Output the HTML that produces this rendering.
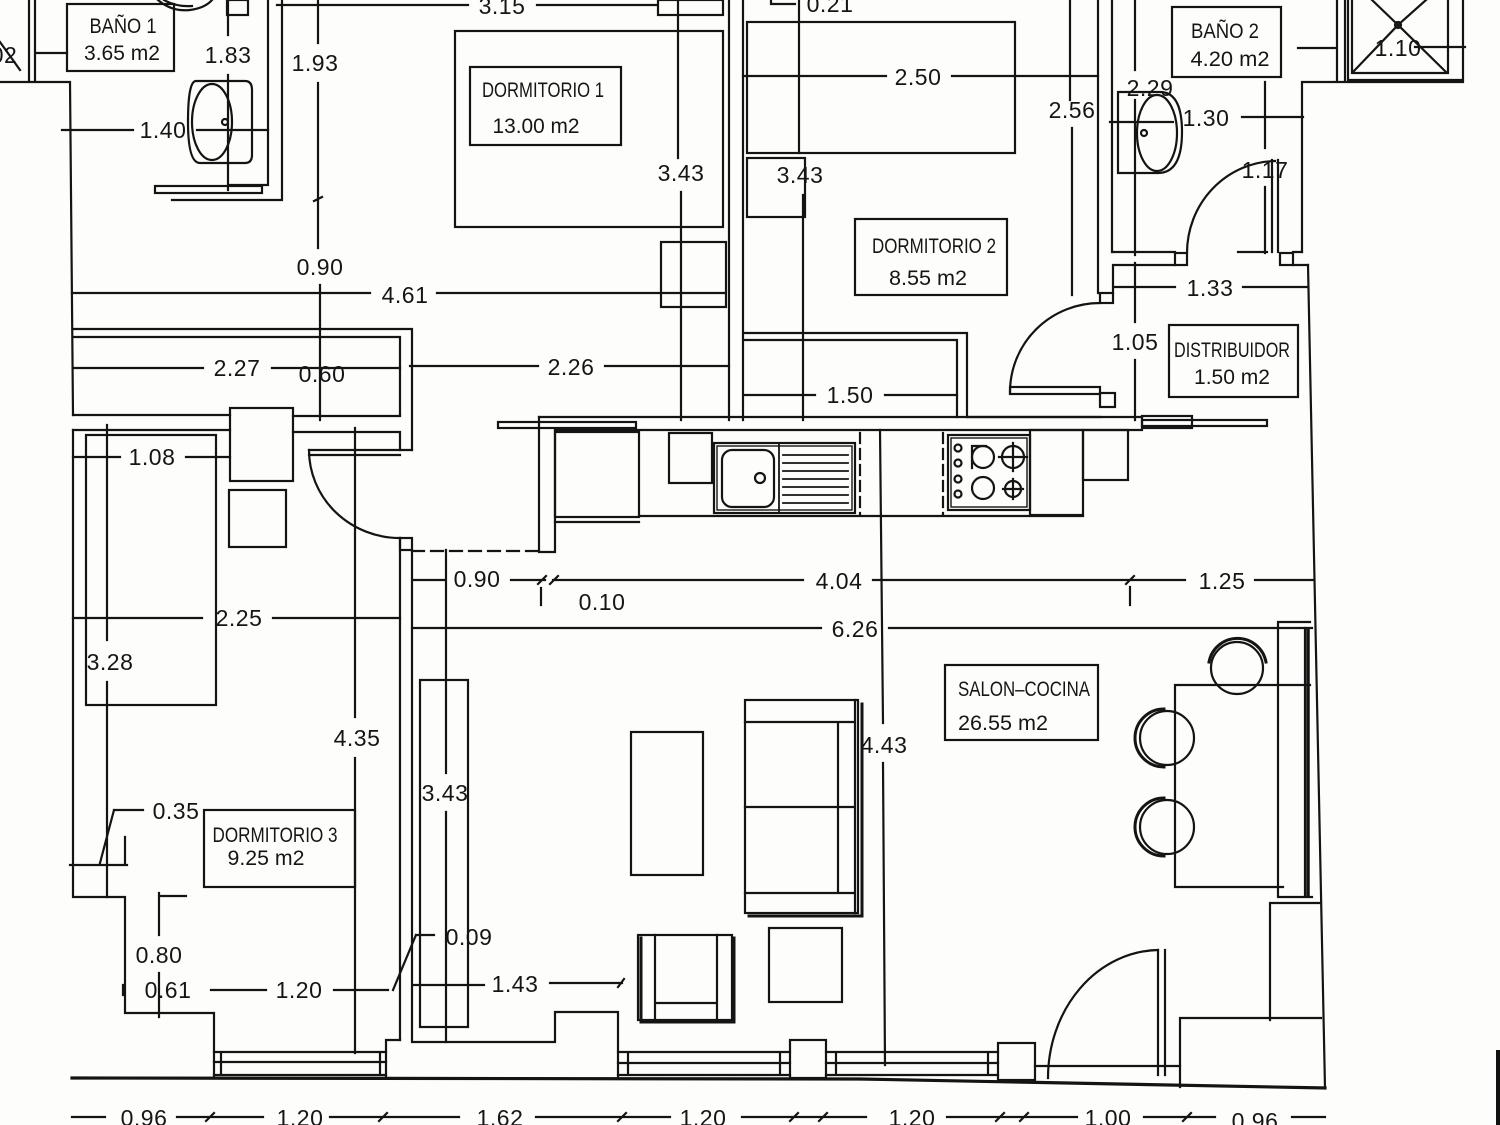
<!DOCTYPE html>
<html><head><meta charset="utf-8"><style>
html,body{margin:0;padding:0;background:#fdfdfc;}
svg{display:block;}
text{font-family:"Liberation Sans",sans-serif;fill:#151515;}
.d{font-size:23px;text-anchor:middle;letter-spacing:0.5px;}
.l{font-size:21px;text-anchor:middle;}
</style></head><body>
<svg width="1500" height="1125" viewBox="0 0 1500 1125" xmlns="http://www.w3.org/2000/svg">
<rect width="1500" height="1125" fill="#fdfdfc"/>
<g stroke="#141414" stroke-width="2.2" fill="none" stroke-linecap="square">
<!-- TOP LEFT / BAÑO 1 -->
<path d="M29 0V82M35 0V82M0 82H69M70 82L73 415M0 42L20 70M35 53H67"/>
<rect x="67" y="4" width="107" height="67"/>
<path d="M158 0Q172 12 190 10Q205 8 212 0M164 0Q176 7 192 6"/>
<rect x="227" y="0" width="21" height="15"/>
<path d="M228 0V35M228 75V190"/>
<path d="M196 81H245Q252 81 252 90V155Q252 163 245 163H200Q188 163 188 122Q188 81 196 81Z"/>
<ellipse cx="212" cy="122" rx="20" ry="38"/>
<circle cx="225" cy="122" r="3"/>
<path d="M62 130H133M197 130H268"/>
<path d="M268 0V185M282 0V200M229 185H268M172 200H282"/>
<rect x="155" y="186" width="107" height="7"/>
<path d="M318 0V43M318 83V248M314 201L322 197M320 285V420"/>
<path d="M277 5H468M537 5H657"/>
<rect x="658" y="0" width="65" height="15"/>
<path d="M72 293H370M437 293H725"/>
<path d="M73 329H412M73 337H400M400 337V415M412 329V450"/>
<path d="M73 368H203M272 368H400"/>
<path d="M73 415H230M293 416H400M73 430H230M293 432H400M400 432V450"/>
<path d="M309 450H412M309 455H400"/>
<rect x="230" y="408" width="63" height="73"/>
<rect x="229" y="490" width="57" height="57"/>
<!-- DORM 1 -->
<rect x="455" y="31" width="268" height="196"/>
<rect x="470" y="67" width="151" height="78"/>
<path d="M678 0V158M681 192V420"/>
<rect x="661" y="242" width="65" height="65"/>
<path d="M729 0V420M743 0V420"/>
<path d="M410 366H538M605 366H729"/>
<!-- DORM 2 -->
<path d="M771 0V4H795"/>
<rect x="747" y="22" width="268" height="131"/>
<path d="M799 0V153M803 195V420"/>
<rect x="747" y="158" width="58" height="59"/>
<path d="M743 76H886M952 76H1098"/>
<rect x="855" y="219" width="152" height="76"/>
<path d="M745 333H967M745 340H957M957 340V417M967 333V417"/>
<path d="M745 395H815M885 395H957"/>
<path d="M1070 0V100M1072 128V295"/>
<path d="M1098 0V293M1112 0V252"/>
<!-- BAÑO 2 -->
<path d="M1135 0V70M1135 100V255"/>
<rect x="1172" y="7" width="109" height="70"/>
<path d="M1298 48H1337M1337 0V80M1345 0V80" />
<path d="M1348 0V80H1463V0M1352 0V73H1448V0M1353 72L1398 25L1446 72M1398 25L1372 0M1398 25L1426 0"/>
<circle cx="1398" cy="25" r="3"/>
<path d="M1415 47H1465"/>
<path d="M1302 82H1463M1302 82V252"/>
<path d="M1118 92H1160Q1182 92 1182 132Q1182 173 1158 173H1118Z"/>
<ellipse cx="1157" cy="133" rx="20" ry="38"/>
<circle cx="1144" cy="133" r="3"/>
<path d="M1110 122H1173M1242 117H1303"/>
<path d="M1265 82V148M1265 187V253M1238 252H1267"/>
<path d="M1272 160V252M1278 160V252"/>
<path d="M1187 253A90 92 0 0 1 1275 161"/>
<rect x="1175" y="253" width="12" height="12"/>
<rect x="1280" y="253" width="13" height="12"/>
<path d="M1113 252H1175M1113 265H1175M1293 252H1302M1293 265H1308M1113 265V293"/>
<rect x="1100" y="293" width="13" height="10"/>
<path d="M1115 287H1175M1243 287H1308"/>
<path d="M1135 263V322M1135 360V420"/>
<path d="M1308 265L1325 1088"/>
<!-- DISTRIBUIDOR DOOR -->
<path d="M1100 303A90 89 0 0 0 1010 392"/>
<rect x="1010" y="387" width="90" height="7"/>
<rect x="1100" y="393" width="15" height="14"/>
<rect x="1169" y="325" width="129" height="72"/>
<path d="M968 417H1100"/>
<!-- KITCHEN -->
<path d="M539 417H1142M555 430H1142"/>
<rect x="498" y="422" width="138" height="6"/>
<rect x="1142" y="416" width="50" height="12"/>
<rect x="1142" y="420" width="125" height="6"/>
<path d="M539 417V552M555 430V552M539 552H555"/>
<path d="M412 551H539" stroke-dasharray="12 7"/>
<rect x="555" y="432" width="84" height="85"/>
<path d="M555 522H639M639 516H1083"/>
<rect x="669" y="433" width="43" height="50"/>
<rect x="714" y="443" width="141" height="70"/>
<rect x="717" y="446" width="135" height="64" stroke-width="1.4"/>
<rect x="722" y="450" width="52" height="57" rx="10"/>
<circle cx="760" cy="478" r="5"/>
<path d="M779 443V513M783 455H848M783 463H848M783 471H848M783 479H848M783 487H848M783 495H848M783 503H848" stroke-width="1.8"/>
<path d="M860 433V515M943 433V515" stroke-dasharray="10 6"/>
<path d="M880 430L883 723M883 763L885 1065"/>
<rect x="948" y="435" width="82" height="75"/>
<rect x="951" y="438" width="76" height="69" stroke-width="1.4"/>
<circle cx="958" cy="448" r="3.5"/><circle cx="958" cy="463" r="3.5"/><circle cx="958" cy="479" r="3.5"/><circle cx="958" cy="494" r="3.5"/>
<circle cx="983" cy="457" r="11"/><path d="M972 446H986M972 446V468"/>
<circle cx="1013" cy="457" r="11"/><path d="M1013 443V471M999 457H1027"/>
<circle cx="983" cy="488" r="11"/>
<circle cx="1013" cy="489" r="8"/><path d="M1013 479V499M1003 489H1023"/>
<rect x="1030" y="430" width="53" height="85"/>
<rect x="1083" y="430" width="45" height="50"/>
<!-- LIVING -->
<path d="M414 580H445M511 580H545M553 580H803M538 584L546 576M550 584L558 576M541 588V605"/>
<path d="M873 580H1185M1126 584L1134 576M1130 587V605M1255 580H1314"/>
<path d="M412 628H821M889 628H1312"/>
<path d="M446 550V773M446 812V1042"/>
<rect x="420" y="680" width="48" height="347"/>
<path d="M400 538V1040M412 550V1042"/>
<rect x="400" y="538" width="12" height="12"/>
<rect x="631" y="732" width="72" height="143"/>
<rect x="745" y="700" width="113" height="213"/>
<path d="M749 916H862V704" stroke-width="3"/>
<path d="M745 722H855M745 893H855M838 722V893M745 807H855M855 700V913"/>
<rect x="638" y="935" width="94" height="85"/>
<path d="M641 938V1022H734V938" stroke-width="3"/>
<path d="M655 935V1020M717 935V1020M655 1003H717"/>
<rect x="769" y="928" width="73" height="74"/>
<rect x="945" y="665" width="153" height="75"/>
<path d="M1175 685H1310M1175 685V887H1283"/>
<path d="M1278 622H1310M1278 622V897H1312M1305 628V895" />
<path d="M1308 630V895" stroke-width="3.5"/>
<circle cx="1237" cy="668" r="26"/><path d="M1209 662A29 29 0 0 1 1266 662" stroke-width="3"/>
<circle cx="1167" cy="738" r="27"/><path d="M1164 709A29 29 0 0 0 1164 767" stroke-width="3"/>
<circle cx="1167" cy="827" r="27"/><path d="M1164 798A29 29 0 0 0 1164 856" stroke-width="3"/>
<path d="M1270 903H1320M1270 903V1020M1180 1087V1018H1321"/>
<path d="M1048 1078A112 128 0 0 1 1158 950"/>
<path d="M1158 950V1075M1165 950V1075M1035 1066H1180"/>
<rect x="998" y="1043" width="37" height="37"/>
<rect x="790" y="1040" width="36" height="38"/>
<path d="M618 1052H790M618 1063H790M618 1075H790M628 1052V1075M780 1052V1075"/>
<path d="M826 1052H998M826 1063H998M826 1075H998M836 1052V1075M988 1052V1075"/>
<path d="M414 1042H555V1012H618V1078"/>
<path d="M413 985H484M550 983H622M618 987L624 979"/>
<path d="M416 935H434M416 935L393 990"/>
<!-- DORM 3 -->
<path d="M73 430V897H125V1013H214V1078"/>
<rect x="86" y="435" width="130" height="270"/>
<path d="M73 457H120M186 457H230"/>
<path d="M107 425V640M107 682V897"/>
<path d="M73 618H202M273 618H400"/>
<path d="M355 428V717M355 758V1053"/>
<rect x="204" y="810" width="151" height="77"/>
<path d="M114 810H143M114 810L100 863M70 865H127M125 837V865"/>
<path d="M159 893V935M159 896H186M159 973V1017"/>
<path d="M123 985V995M211 990H266M334 990H388"/>
<path d="M214 1052H386M214 1062H386M214 1075H386M221 1052V1075M380 1052V1075"/>
<path d="M400 1040H386V1078"/>
<path d="M309 450A91 88 0 0 0 400 538"/>
<!-- GROUND -->
<path d="M72 1078L860 1079L1325 1088" stroke-width="3.2"/>
<path d="M72 1117H105M177 1117H263M330 1117H459M536 1117H670M742 1117H866M947 1117H1077M1144 1117H1215M1292 1117H1325"/>
<path d="M206 1121L214 1113M379 1121L387 1113M618 1121L626 1113M790 1121L798 1113M819 1121L827 1113M996 1121L1004 1113M1020 1121L1028 1113M1183 1121L1191 1113"/>
</g>
<rect x="1496" y="1050" width="4" height="75" fill="#111"/>
<!-- LABELS -->
<g>
<text class="l" x="123" y="33" textLength="67" lengthAdjust="spacingAndGlyphs">BAÑO 1</text>
<text class="l" x="122" y="60" textLength="76" lengthAdjust="spacingAndGlyphs">3.65 m2</text>
<text class="l" x="543" y="97" textLength="122" lengthAdjust="spacingAndGlyphs">DORMITORIO 1</text>
<text class="l" x="536" y="133" textLength="87" lengthAdjust="spacingAndGlyphs">13.00 m2</text>
<text class="l" x="934" y="253" textLength="124" lengthAdjust="spacingAndGlyphs">DORMITORIO 2</text>
<text class="l" x="928" y="285" textLength="78" lengthAdjust="spacingAndGlyphs">8.55 m2</text>
<text class="l" x="1225" y="38" textLength="68" lengthAdjust="spacingAndGlyphs">BAÑO 2</text>
<text class="l" x="1230" y="66" textLength="79" lengthAdjust="spacingAndGlyphs">4.20 m2</text>
<text class="l" x="1232" y="357" textLength="116" lengthAdjust="spacingAndGlyphs">DISTRIBUIDOR</text>
<text class="l" x="1232" y="384" textLength="76" lengthAdjust="spacingAndGlyphs">1.50 m2</text>
<text class="l" x="1024" y="696" textLength="132" lengthAdjust="spacingAndGlyphs">SALON–COCINA</text>
<text class="l" x="1003" y="730" textLength="90" lengthAdjust="spacingAndGlyphs">26.55 m2</text>
<text class="l" x="275" y="842" textLength="125" lengthAdjust="spacingAndGlyphs">DORMITORIO 3</text>
<text class="l" x="266" y="865" textLength="77" lengthAdjust="spacingAndGlyphs">9.25 m2</text>
</g>
<g>
<text class="d" x="228" y="63">1.83</text>
<text class="d" x="315" y="71">1.93</text>
<text class="d" x="163" y="138">1.40</text>
<text class="d" x="320" y="275">0.90</text>
<text class="d" x="405" y="303">4.61</text>
<text class="d" x="237" y="376">2.27</text>
<text class="d" x="322" y="382">0.60</text>
<text class="d" x="502" y="14">3.15</text>
<text class="d" x="830" y="12">0.21</text>
<text class="d" x="681" y="181">3.43</text>
<text class="d" x="918" y="85">2.50</text>
<text class="d" x="800" y="183">3.43</text>
<text class="d" x="1072" y="118">2.56</text>
<text class="d" x="1150" y="96">2.29</text>
<text class="d" x="1206" y="126">1.30</text>
<text class="d" x="1265" y="178">1.17</text>
<text class="d" x="1398" y="56">1.10</text>
<text class="d" x="1210" y="296">1.33</text>
<text class="d" x="1135" y="350">1.05</text>
<text class="d" x="571" y="375">2.26</text>
<text class="d" x="850" y="403">1.50</text>
<text class="d" x="152" y="465">1.08</text>
<text class="d" x="477" y="587">0.90</text>
<text class="d" x="839" y="589">4.04</text>
<text class="d" x="1222" y="589">1.25</text>
<text class="d" x="602" y="610">0.10</text>
<text class="d" x="239" y="626">2.25</text>
<text class="d" x="855" y="637">6.26</text>
<text class="d" x="110" y="670">3.28</text>
<text class="d" x="357" y="746">4.35</text>
<text class="d" x="884" y="753">4.43</text>
<text class="d" x="445" y="801">3.43</text>
<text class="d" x="176" y="819">0.35</text>
<text class="d" x="159" y="963">0.80</text>
<text class="d" x="469" y="945">0.09</text>
<text class="d" x="168" y="998">0.61</text>
<text class="d" x="299" y="998">1.20</text>
<text class="d" x="515" y="992">1.43</text>
<text class="d" x="144" y="1126">0.96</text>
<text class="d" x="300" y="1126">1.20</text>
<text class="d" x="500" y="1126">1.62</text>
<text class="d" x="703" y="1126">1.20</text>
<text class="d" x="912" y="1126">1.20</text>
<text class="d" x="1108" y="1126">1.00</text>
<text class="d" x="1255" y="1129">0.96</text>
<text class="d" x="4" y="63">02</text>
</g>
</svg>
</body></html>
